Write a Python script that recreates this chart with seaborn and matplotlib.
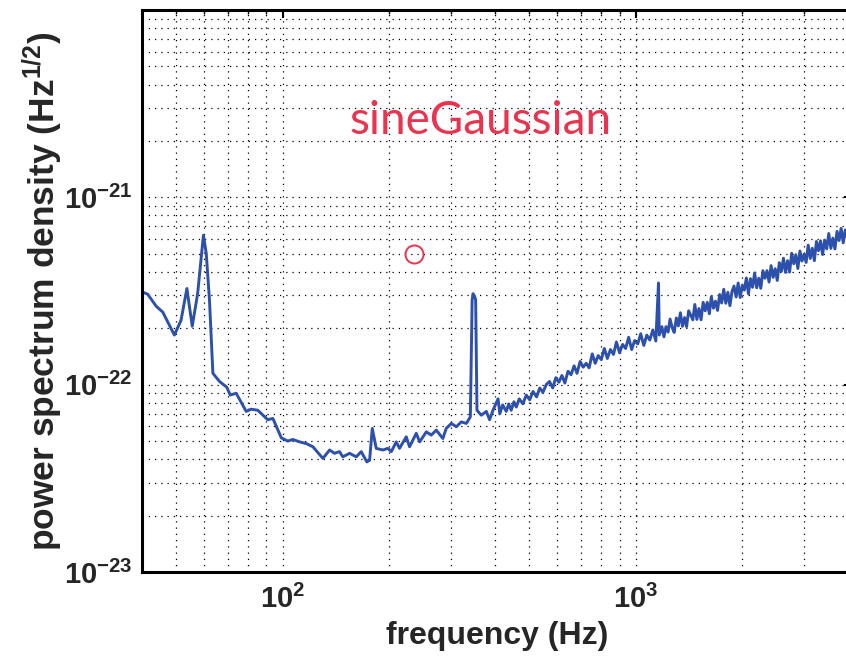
import matplotlib

matplotlib.use("Agg")
import matplotlib.pyplot as plt
import numpy as np
import pandas as pd
import seaborn as sns
from matplotlib.ticker import FixedLocator, FuncFormatter, LogLocator, NullFormatter

# amplitude spectral density, values in units of 1e-23
freq_hz = [
    40.0, 41.5, 43.9, 45.8, 49.4, 51.6, 53.6, 55.5, 57.5, 59.7, 60.8, 62.1,
    63.5, 66.3, 69.5, 71.1, 73.9, 78.9, 81.5, 85.1, 90.8, 93.9, 99.2, 103.5,
    106.9, 111.7, 116.7, 121.9, 130.1, 135.9, 140.3, 145.0, 148.1, 154.8,
    161.7, 167.0, 173.3, 176.4, 179.5, 184.2, 192.3, 198.7, 203.2, 209.9,
    214.4, 224.0, 228.9, 239.1, 244.5, 255.3, 263.7, 272.4, 284.4, 290.7,
    300.6, 310.5, 320.7, 331.4, 340.2, 344.2, 346.1, 349.9, 352.2, 355.2,
    365.5, 377.6, 385.7, 394.3, 407.6, 412.3, 420.0, 430.0, 437.0, 444.0,
    452.0, 459.0, 468.0, 479.0, 490.0, 501.0, 512.0, 524.0, 535.0, 546.0,
    558.0,
    570, 582, 594, 606, 618, 630, 643, 656, 669, 682, 696, 710, 724, 738,
    753, 768, 783, 799, 815, 831, 848, 865, 882, 900, 918, 936, 955, 974,
    993, 1013, 1033, 1054, 1075, 1096, 1118, 1140, 1160, 1166,
    1186, 1202, 1218, 1235, 1251, 1268, 1285, 1303, 1320, 1338,
    1356, 1375, 1393, 1412, 1431, 1451, 1470, 1490, 1510, 1531,
    1552, 1573, 1594, 1616, 1637, 1660, 1682, 1705, 1728, 1751,
    1775, 1799, 1823, 1848, 1873, 1898, 1924, 1950, 1976, 2003,
    2030, 2057, 2085, 2113, 2142, 2171, 2200, 2230, 2260, 2291,
    2322, 2353, 2385, 2417, 2450, 2483, 2516, 2550, 2585, 2620,
    2655, 2691, 2727, 2764, 2802, 2840, 2878, 2917, 2956, 2996,
    3037, 3078, 3120, 3162, 3205, 3248, 3292, 3336, 3381, 3427,
    3473, 3520, 3568, 3616, 3665, 3715, 3765, 3816, 3868, 3920,
    3973, 4027, 4081, 4096,
]
asd_e23 = [
    31.3, 30.4, 26.2, 24.4, 18.4, 22.1, 32.6, 20.5, 30.7, 62.7, 50.3, 28.3,
    11.5, 10.4, 9.7, 8.8, 9.0, 7.2, 7.4, 7.3, 6.5, 6.6, 5.2, 5.0,
    5.1, 4.95, 4.85, 4.66, 4.04, 4.48, 4.30, 4.39, 4.12, 4.30,
    4.12, 4.39, 3.87, 3.95, 5.84, 4.57, 4.48, 4.57, 4.39, 4.95,
    4.57, 5.27, 4.66, 5.50, 4.95, 5.60, 5.38, 5.72, 5.16, 5.84,
    6.21, 5.96, 6.33, 6.21, 6.73, 28.3, 30.6, 29.6, 28.3, 7.3,
    6.87, 7.2, 6.5, 7.3, 8.4, 7.0, 7.8, 7.2, 7.9, 7.3,
    8.1, 7.6, 8.4, 7.9, 8.8, 8.3, 9.2, 8.6, 9.6, 9.1,
    10.0,
    10.4, 9.6, 10.9, 10.3, 11.2, 10.2, 11.8, 11.3, 12.6, 11.5, 13.3, 12.4, 13.0, 12.3,
    14.6, 13.0, 14.3, 13.6, 15.6, 13.8, 15.4, 14.5, 16.9, 14.8, 16.4, 15.6, 17.9, 15.4,
    17.2, 16.5, 18.7, 16.2, 18.4, 17.3, 19.6, 17.1, 34.9, 18.4,
    20.4, 18.0, 20.4, 19.1, 22.4, 20.2, 19.0, 22.7, 20.6, 24.2,
    20.5, 22.8, 20.4, 24.8, 23.5, 22.2, 26.8, 22.3, 25.5, 22.2,
    27.5, 24.8, 27.5, 23.9, 29.5, 25.6, 27.9, 24.9, 30.3, 27.3,
    32.3, 27.2, 31.1, 26.4, 31.4, 33.6, 29.4, 34.9, 29.2, 33.9,
    32.0, 37.1, 30.5, 36.8, 33.1, 39.5, 32.9, 37.0, 32.7, 40.6,
    37.0, 40.6, 35.3, 43.2, 37.4, 41.6, 36.0, 44.8, 40.3, 47.3,
    39.7, 45.9, 39.9, 50.3, 44.2, 49.4, 41.7, 51.7, 45.7, 49.7,
    44.9, 55.6, 47.2, 53.5, 45.9, 58.1, 51.9, 58.6, 49.5, 59.1,
    53.1, 64.1, 53.4, 60.6, 53.0, 65.8, 58.8, 68.3, 57.2, 66.9,
    60.1, 72.7, 63.0, 71.9,
]

marker_freq_hz = [235.0]
marker_asd = [5.0e-22]
annotation = "sineGaussian"

x_ticks = [1e2, 1e3]
y_ticks = [1e-23, 1e-22, 1e-21]

sns.set_theme(style="white")
plt.rcParams.update({
    "font.family": ["Liberation Sans", "DejaVu Sans"],
    "font.weight": "bold",
    "mathtext.fontset": "custom",
    "mathtext.rm": "Liberation Sans:bold",
    "mathtext.it": "Liberation Sans:bold",
    "mathtext.bf": "Liberation Sans:bold",
})

df = pd.DataFrame({"freq": freq_hz, "asd": np.array(asd_e23) * 1e-23})

fig = plt.figure(figsize=(8.46, 6.58), dpi=100, facecolor="white")
ax = fig.add_axes([142 / 846, 86 / 658, 710 / 846, 562 / 658])

sns.lineplot(data=df, x="freq", y="asd", ax=ax, color="#2c50ab", linewidth=2.1,
             estimator=None, sort=False)
ax.plot(marker_freq_hz, marker_asd, "o", markersize=13, markerfacecolor="none",
        markeredgecolor="#e8344f", markeredgewidth=1.4)
ax.text(155, 2.19e-21, annotation, color="#e8344f", fontsize=33,
        fontweight="normal", family="Lato", ha="left", va="baseline")

ax.set_xscale("log")
ax.set_yscale("log")
ax.set_xlim(40, 4096)
ax.set_ylim(1e-23, 1e-20)

ax.xaxis.set_major_locator(FixedLocator(x_ticks))
ax.yaxis.set_major_locator(FixedLocator(y_ticks))
ax.xaxis.set_minor_locator(LogLocator(base=10, subs=np.arange(2, 10), numticks=20))
ax.yaxis.set_minor_locator(LogLocator(base=10, subs=np.arange(2, 10), numticks=20))
ax.xaxis.set_minor_formatter(NullFormatter())
ax.yaxis.set_minor_formatter(NullFormatter())
exp_fmt = FuncFormatter(lambda v, _: r"$\mathbf{10^{%d}}$" % round(np.log10(v)))
ax.xaxis.set_major_formatter(exp_fmt)
ax.yaxis.set_major_formatter(exp_fmt)

ax.grid(True, which="both", color="black", linestyle=(0, (1, 4)), linewidth=0.9)
ax.tick_params(which="both", direction="in", top=True, right=True, color="black",
               labelsize=21)
ax.tick_params(which="major", length=6, width=1.5)
ax.tick_params(which="minor", length=3, width=1.0)
ax.tick_params(axis="x", pad=9)
ax.tick_params(axis="y", pad=7)
for spine in ax.spines.values():
    spine.set_color("black")
    spine.set_linewidth(2.2)

ax.set_xlabel("frequency (Hz)", fontsize=23, fontweight="bold", labelpad=5)
ax.set_ylabel(r"power spectrum density (Hz$^{1/2}$)", fontsize=25.5,
              fontweight="bold", labelpad=-1)

fig.savefig("out.png", dpi=100, facecolor="white")
